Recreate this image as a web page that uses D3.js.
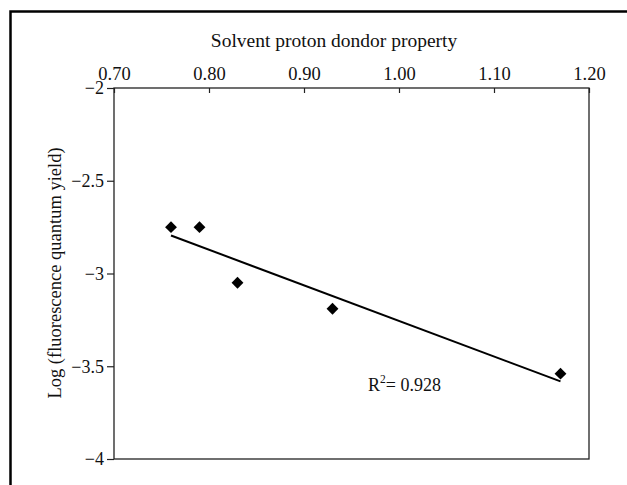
<!DOCTYPE html>
<html>
<head>
<meta charset="utf-8">
<script src="https://cdn.jsdelivr.net/npm/d3@7.9.0/dist/d3.min.js"></script>
<style>
  body { margin: 0; background: #fff; }
  svg { display: block; font-family: "Liberation Serif", "Times New Roman", serif; }
</style>
</head>
<body>
<div id="chart"></div>
<script>
// solvent proton donor property vs log(fluorescence quantum yield)
const donor = [0.76, 0.79, 0.83, 0.93, 1.17];
const logYield = [-2.75, -2.75, -3.05, -3.19, -3.54];
const xTicks = [0.70, 0.80, 0.90, 1.00, 1.10, 1.20];
const yTicks = [-2, -2.5, -3, -3.5, -4];
const r2Label = '0.928';

const width = 627;
const height = 485;
const margin = { top: 88, right: 38, bottom: 26, left: 114 };
const serif = '"Liberation Serif", "Times New Roman", serif';

const svg = d3
  .select('#chart')
  .append('svg')
  .attr('width', width)
  .attr('height', height);

// outer frame (only left and top edges visible)
svg
  .append('path')
  .attr('d', `M10.5,${height} V11.5 H${width}`)
  .attr('fill', 'none')
  .attr('stroke', '#000')
  .attr('stroke-width', 2.5);

const x = d3
  .scaleLinear()
  .domain([0.7, 1.2])
  .range([margin.left, width - margin.right]);

const y = d3
  .scaleLinear()
  .domain([-2, -4])
  .range([margin.top, height - margin.bottom]);

// plot area box
svg
  .append('rect')
  .attr('x', x(0.7))
  .attr('y', y(-2))
  .attr('width', x(1.2) - x(0.7))
  .attr('height', y(-4) - y(-2))
  .attr('fill', 'none')
  .attr('stroke', '#222')
  .attr('stroke-width', 1.3);

// top x axis, ticks pointing into the plot
const xAxis = svg
  .append('g')
  .attr('transform', `translate(0, ${y(-2)})`)
  .call(
    d3.axisTop(x)
      .tickValues(xTicks)
      .tickFormat(d3.format('.2f'))
      .tickSize(-5)
      .tickPadding(8)
  )
  .attr('font-family', serif);
xAxis.select('.domain').remove();
xAxis.selectAll('line').attr('stroke', '#222').attr('stroke-width', 1.2);
xAxis.selectAll('text').attr('font-size', 18.5).attr('fill', '#111');

// left y axis
const yAxis = svg
  .append('g')
  .attr('transform', `translate(${x(0.7)}, 0)`)
  .call(
    d3.axisLeft(y)
      .tickValues(yTicks)
      .tickFormat(d3.format(''))
      .tickSize(7)
      .tickPadding(3)
  )
  .attr('font-family', serif);
yAxis.select('.domain').remove();
yAxis.selectAll('line').attr('stroke', '#222').attr('stroke-width', 1.2);
yAxis.selectAll('text').attr('font-size', 18).attr('fill', '#111');

// axis titles
svg
  .append('text')
  .attr('x', 334)
  .attr('y', 47)
  .attr('text-anchor', 'middle')
  .attr('font-size', 19.5)
  .attr('fill', '#111')
  .text('Solvent proton dondor property');

svg
  .append('text')
  .attr('transform', `translate(61, 273) rotate(-90)`)
  .attr('text-anchor', 'middle')
  .attr('font-size', 18.5)
  .attr('fill', '#111')
  .text('Log (fluorescence quantum yield)');

// linear trend line across the data range
const mx = d3.mean(donor);
const my = d3.mean(logYield);
const sxy = d3.sum(donor, (d, i) => (d - mx) * (logYield[i] - my));
const sxx = d3.sum(donor, (d) => (d - mx) ** 2);
const slope = sxy / sxx;
const intercept = my - slope * mx;
const [x0, x1] = d3.extent(donor);

svg
  .append('line')
  .attr('x1', x(x0))
  .attr('y1', y(intercept + slope * x0))
  .attr('x2', x(x1))
  .attr('y2', y(intercept + slope * x1))
  .attr('stroke', '#000')
  .attr('stroke-width', 2);

// diamond markers
const diamond = d3.symbol().type(d3.symbolSquare).size(70);
svg
  .append('g')
  .selectAll('path')
  .data(donor)
  .join('path')
  .attr('d', diamond)
  .attr('transform', (d, i) => `translate(${x(d)}, ${y(logYield[i])}) rotate(45)`)
  .attr('fill', '#000');

// R squared annotation
const r2 = svg
  .append('text')
  .attr('x', 368)
  .attr('y', 391)
  .attr('font-size', 18)
  .attr('fill', '#111');
r2.append('tspan').text('R');
r2.append('tspan').attr('font-size', 11.5).attr('dy', -8).text('2');
r2.append('tspan').attr('dy', 8).text('= ' + r2Label);
</script>
</body>
</html>
